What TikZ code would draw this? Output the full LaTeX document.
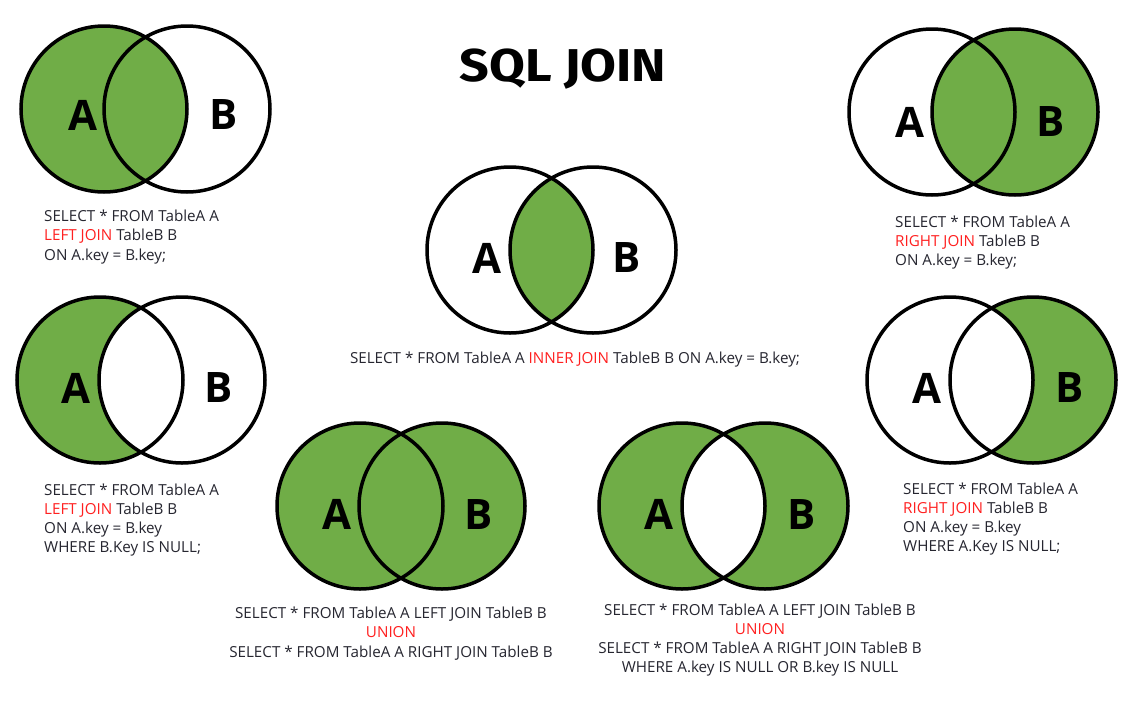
\documentclass[tikz,border=0pt]{standalone}
\usepackage{fontspec}
\setmainfont{Open Sans}
\newfontfamily\titlefont{Fira Sans}
\definecolor{jgreen}{HTML}{70AD47}
\definecolor{jtext}{HTML}{262630}
\definecolor{jred}{HTML}{FF2020}
\tikzset{
  ring/.style={line width=3.5pt, draw=black},
  lbl/.style={font=\fontsize{42}{42}\selectfont\bfseries, inner sep=0pt},
  code/.style={font=\fontsize{15.2}{19}\selectfont, text=jtext, inner sep=0pt},
  hl/.style={text=jred},
}
\newcommand{\rr}{83}
\begin{document}
\begin{tikzpicture}[x=1pt,y=-1pt]
\useasboundingbox[fill=white] (0,0) rectangle (1146,710);

% title
\node[font=\titlefont\fontsize{46}{46}\selectfont\bfseries, inner sep=0pt] (title) at (563,69) {\scalebox{1.13}[1]{SQL JOIN}};

% ---------- D1: LEFT JOIN ----------
\fill[jgreen] (104,109) circle (\rr);
\draw[ring] (104,109) circle (\rr);
\draw[ring] (187,109) circle (\rr);
\node[lbl] (d1A) at (83,115) {A};
\node[lbl] (d1B) at (224,115) {B};
\node[code, anchor=base west] (d1t1) at (44,221) {SELECT * FROM TableA A};
\node[code, anchor=base west] (d1t2) at (44,240.5) {\textcolor{jred}{LEFT JOIN} TableB B};
\node[code, anchor=base west] (d1t3) at (44,260) {ON A.key = B.key;};

% ---------- D2: INNER JOIN ----------
\begin{scope}
  \clip (510,250) circle (\rr);
  \fill[jgreen] (593,250) circle (\rr);
\end{scope}
\draw[ring] (510,250) circle (\rr);
\draw[ring] (593,250) circle (\rr);
\node[lbl] (d2A) at (487,258) {A};
\node[lbl] (d2B) at (627,258) {B};
\node[code, anchor=base] (d2t1) at (575,363) {SELECT * FROM TableA A \textcolor{jred}{INNER JOIN} TableB B ON A.key = B.key;};

% ---------- D3: RIGHT JOIN ----------
\fill[jgreen] (1015,112) circle (\rr);
\draw[ring] (932,112) circle (\rr);
\draw[ring] (1015,112) circle (\rr);
\node[lbl] (d3A) at (910,122) {A};
\node[lbl] (d3B) at (1051,122) {B};
\node[code, anchor=base west] (d3t1) at (895,227) {SELECT * FROM TableA A};
\node[code, anchor=base west] (d3t2) at (895,246) {\textcolor{jred}{RIGHT JOIN} TableB B};
\node[code, anchor=base west] (d3t3) at (895,265) {ON A.key = B.key;};

% ---------- D4: LEFT ONLY ----------
\fill[jgreen] (100,380) circle (\rr);
\fill[white] (182,380) circle (\rr);
\draw[ring] (100,380) circle (\rr);
\draw[ring] (182,380) circle (\rr);
\node[lbl] (d4A) at (76,388) {A};
\node[lbl] (d4B) at (219,388) {B};
\node[code, anchor=base west] (d4t1) at (44,495) {SELECT * FROM TableA A};
\node[code, anchor=base west] (d4t2) at (44,514) {\textcolor{jred}{LEFT JOIN} TableB B};
\node[code, anchor=base west] (d4t3) at (44,533) {ON A.key = B.key};
\node[code, anchor=base west] (d4t4) at (44,552) {WHERE B.Key IS NULL;};

% ---------- D5: FULL OUTER ----------
\fill[jgreen] (360,506) circle (\rr);
\fill[jgreen] (442,506) circle (\rr);
\draw[ring] (360,506) circle (\rr);
\draw[ring] (442,506) circle (\rr);
\node[lbl] (d5A) at (337,514) {A};
\node[lbl] (d5B) at (479,514) {B};
\node[code, anchor=base] (d5t1) at (391,618) {SELECT * FROM TableA A LEFT JOIN TableB B};
\node[code, anchor=base, hl] (d5t2) at (391,637.5) {UNION};
\node[code, anchor=base] (d5t3) at (391,657) {SELECT * FROM TableA A RIGHT JOIN TableB B};

% ---------- D6: FULL OUTER EXCLUDING ----------
\fill[jgreen] (682,506) circle (\rr);
\fill[jgreen] (765,506) circle (\rr);
\begin{scope}
  \clip (682,506) circle (\rr);
  \fill[white] (765,506) circle (\rr);
\end{scope}
\draw[ring] (682,506) circle (\rr);
\draw[ring] (765,506) circle (\rr);
\node[lbl] (d6A) at (659,514) {A};
\node[lbl] (d6B) at (802,514) {B};
\node[code, anchor=base] (d6t1) at (760,615) {SELECT * FROM TableA A LEFT JOIN TableB B};
\node[code, anchor=base, hl] (d6t2) at (760,634) {UNION};
\node[code, anchor=base] (d6t3) at (760,653) {SELECT * FROM TableA A RIGHT JOIN TableB B};
\node[code, anchor=base] (d6t4) at (760,672) {WHERE A.key IS NULL OR B.key IS NULL};

% ---------- D7: RIGHT ONLY ----------
\fill[jgreen] (1033,380) circle (\rr);
\fill[white] (950,380) circle (\rr);
\draw[ring] (950,380) circle (\rr);
\draw[ring] (1033,380) circle (\rr);
\node[lbl] (d7A) at (927,388) {A};
\node[lbl] (d7B) at (1070,388) {B};
\node[code, anchor=base west] (d7t1) at (903,494) {SELECT * FROM TableA A};
\node[code, anchor=base west] (d7t2) at (903,513) {\textcolor{jred}{RIGHT JOIN} TableB B};
\node[code, anchor=base west] (d7t3) at (903,532) {ON A.key = B.key};
\node[code, anchor=base west] (d7t4) at (903,551) {WHERE A.Key IS NULL;};
\end{tikzpicture}
\end{document}
